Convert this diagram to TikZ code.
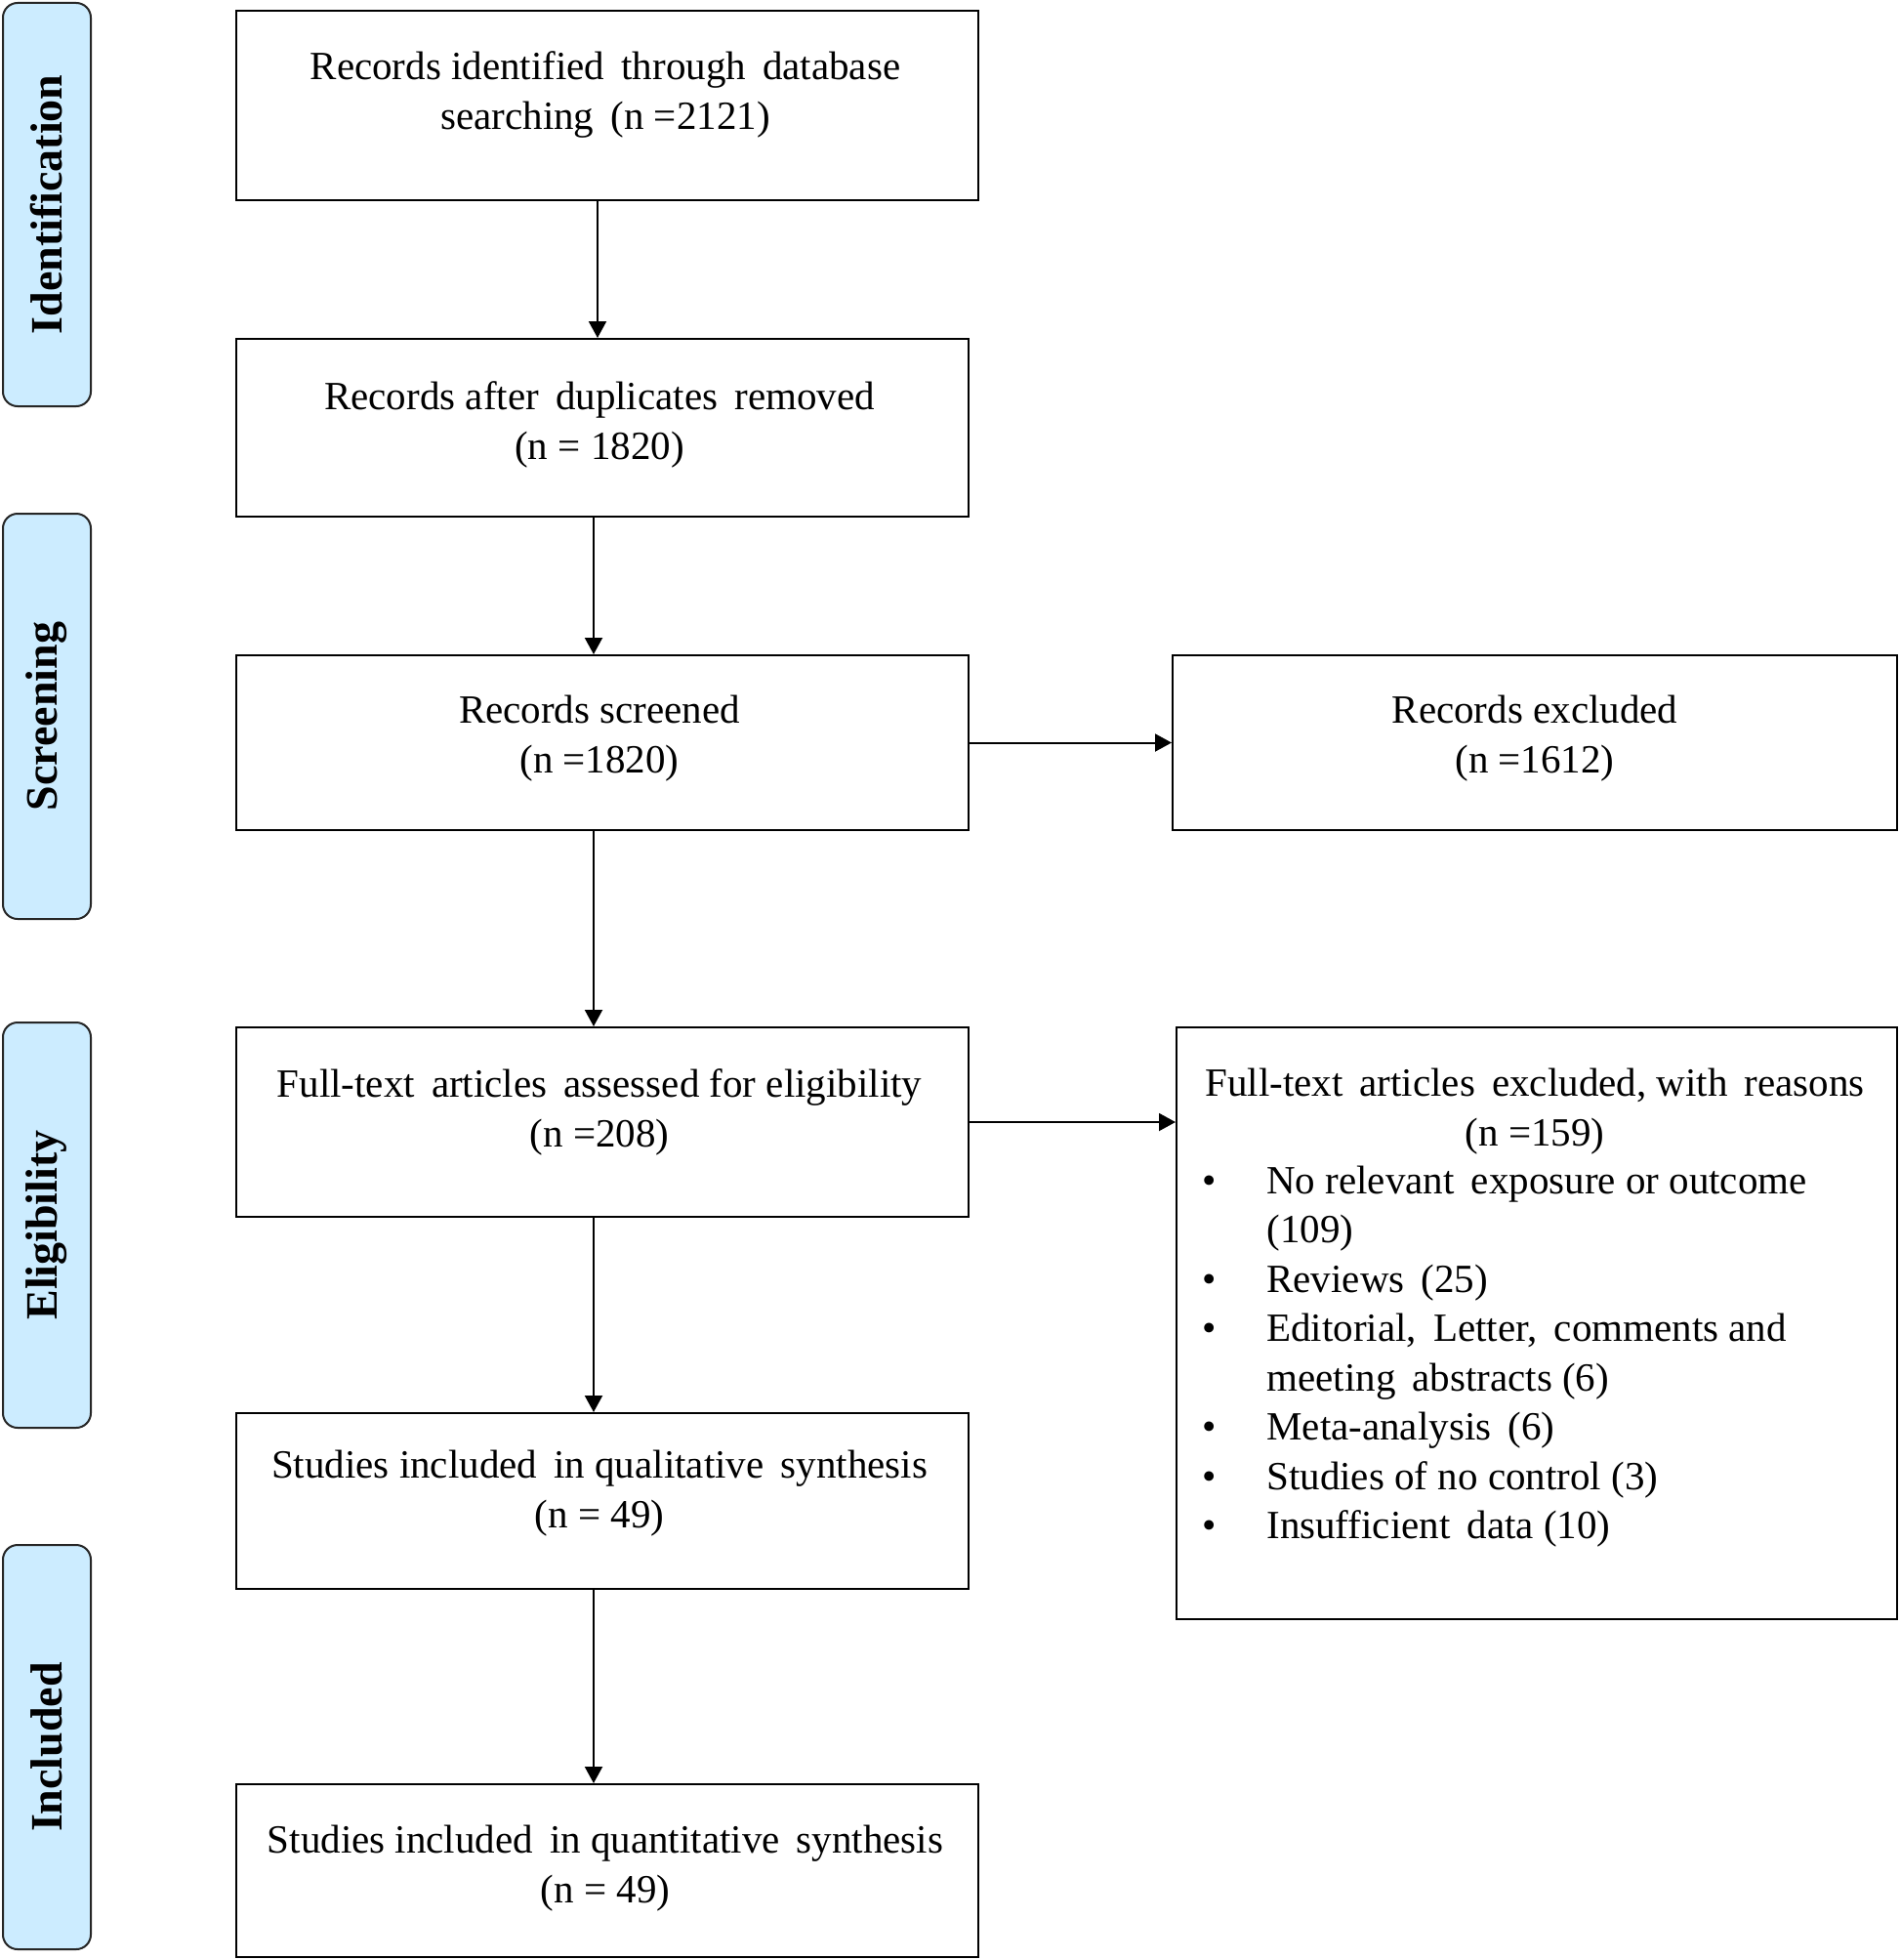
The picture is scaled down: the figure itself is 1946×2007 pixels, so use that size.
\documentclass[tikz,border=0pt]{standalone}
\usepackage{fontspec}
\setmainfont{Liberation Serif}
\usetikzlibrary{arrows.meta}
\definecolor{phasefill}{RGB}{204,236,255}
\newcommand{\pbullet}{\makebox[33pt][l]{•}}
\begin{document}
\begin{tikzpicture}[x=0.5pt,y=-0.5pt,
  box/.style={draw=black, line width=1pt, rectangle, inner sep=0pt},
  phase/.style={draw=black!85, line width=1pt, fill=phasefill, rounded corners=7.5pt,
    rotate=90, minimum height=45pt, inner sep=0pt,
    font=\fontsize{23}{27}\selectfont\bfseries},
  txt/.style={align=center, inner sep=0pt, font=\fontsize{20.5}{25.5}\selectfont},
  listtxt/.style={align=left, inner sep=0pt, font=\fontsize{20.5}{25.25}\selectfont},
  arr/.style={-{Triangle[length=8.5pt,width=9pt]}, line width=1pt}]
\useasboundingbox (0,0) rectangle (1946,2007);

% phase labels
\node[phase, minimum width=206.5pt] (p1) at (48,209.5) {Identification};
\node[phase, minimum width=207.5pt] (p2) at (48,733.5) {Screening};
\node[phase, minimum width=207.5pt] (p3) at (48,1254.5) {Eligibility};
\node[phase, minimum width=207pt] (p4) at (48,1789) {Included};

% boxes
\node[box, minimum width=380pt, minimum height=97pt] (b1) at (622,108) {};
\node[txt] (t1) at (620,96.5) {Records identified\, through\, database\\searching\, (n =2121)};

\node[box, minimum width=375pt, minimum height=91pt] (b2) at (617,438) {};
\node[txt] (t2) at (614,434.5) {Records after\, duplicates\, removed\\(n = 1820)};

\node[box, minimum width=375pt, minimum height=89.5pt] (b3) at (617,760.5) {};
\node[txt] (t3) at (614,756.5) {Records screened\\(n =1820)};

\node[box, minimum width=371pt, minimum height=89.5pt] (e1) at (1572,760.5) {};
\node[txt] (te1) at (1572,756.5) {Records excluded\\(n =1612)};

\node[box, minimum width=375pt, minimum height=97pt] (b4) at (617,1149) {};
\node[txt] (t4) at (614,1138.5) {Full-text\, articles\, assessed for eligibility\\(n =208)};

\node[box, minimum width=369pt, minimum height=303pt] (e2) at (1574,1355) {};
\node[txt] (te2) at (1572,1138) {Full-text\, articles\, excluded, with\, reasons\\(n =159)};
\node[listtxt, anchor=west] (te2l) at (1231,1389) {\pbullet No relevant\, exposure or outcome\\
\hspace*{33pt}(109)\\
\pbullet Reviews\, (25)\\
\pbullet Editorial,\, Letter,\, comments and\\
\hspace*{33pt}meeting\, abstracts (6)\\
\pbullet Meta-analysis\, (6)\\
\pbullet Studies of no control (3)\\
\pbullet Insufficient\, data (10)};

\node[box, minimum width=375pt, minimum height=90pt] (b5) at (617,1537) {};
\node[txt] (t5) at (614,1529) {Studies included\, in qualitative\, synthesis\\(n = 49)};

\node[box, minimum width=380pt, minimum height=88.5pt] (b6) at (622,1915.5) {};
\node[txt] (t6) at (620,1913) {Studies included\, in quantitative\, synthesis\\(n = 49)};

% connectors
\coordinate (ax1) at (612,0);
\coordinate (ax2) at (608,0);
\draw[arr] (b1.south -| ax1) -- (b2.north -| ax1);
\draw[arr] (b2.south -| ax2) -- (b3.north -| ax2);
\draw[arr] (b3.south -| ax2) -- (b4.north -| ax2);
\draw[arr] (b4.south -| ax2) -- (b5.north -| ax2);
\draw[arr] (b5.south -| ax2) -- (b6.north -| ax2);
\draw[arr] (b3.east) -- (e1.west);
\draw[arr] (b4.east) -- (b4.east -| e2.west);
\end{tikzpicture}
\end{document}
